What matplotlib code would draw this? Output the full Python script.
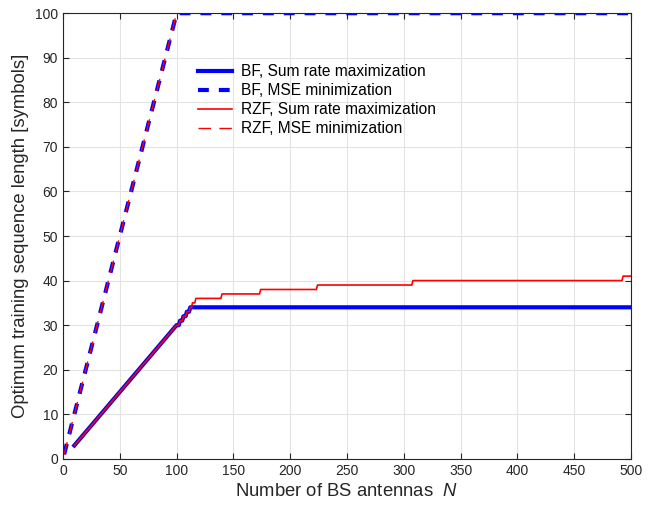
import matplotlib.pyplot as plt

plt.rcParams['font.family'] = ['Liberation Sans', 'DejaVu Sans']
plt.rcParams['mathtext.fontset'] = 'custom'
plt.rcParams['mathtext.it'] = 'Liberation Sans:italic'
plt.rcParams['mathtext.rm'] = 'Liberation Sans'

# MSE minimization (same for BF and RZF)
mse_N = [1, 100, 500]
mse_tau = [1, 100, 100]

# BF, sum rate maximization
bf_N = [10, 100, 102, 103, 105, 106, 108, 109, 111, 112, 500]
bf_tau = [3, 30, 30, 31, 31, 32, 32, 33, 33, 34, 34]

# RZF, sum rate maximization
rzf_N = [10, 100, 102, 103, 105, 106, 108, 109, 111, 112, 113, 114, 116, 117,
         139, 140, 173, 174, 223, 224, 307, 308, 492, 493, 500]
rzf_tau = [3, 30, 30, 31, 31, 32, 32, 33, 33, 34, 34, 35, 35, 36,
           36, 37, 37, 38, 38, 39, 39, 40, 40, 41, 41]

fig = plt.figure(figsize=(6.56, 5.07), dpi=100)
ax = fig.add_axes([0.096, 0.095, 0.866, 0.879])

ax.plot(bf_N, bf_tau, color='#0000ff', lw=3, label='BF, Sum rate maximization')
ax.plot(mse_N, mse_tau, color='#0000ff', lw=3, ls=(0, (2.6, 2.4)), label='BF, MSE minimization')
ax.plot(rzf_N, rzf_tau, color='#ff0000', lw=1.2, label='RZF, Sum rate maximization')
ax.plot(mse_N, mse_tau, color='#ff0000', lw=1.0, ls=(0, (9, 6)), label='RZF, MSE minimization')

ax.set_xlim(0, 500)
ax.set_ylim(0, 100)
ax.set_xticks(range(0, 501, 50))
ax.set_yticks(range(0, 101, 10))
ax.grid(True, color='#e3e3e3', lw=0.8)
ax.set_axisbelow(True)
ax.tick_params(direction='in', top=True, right=True, labelsize=10, colors='#262626', length=4)
for s in ax.spines.values():
    s.set_color('#262626')
    s.set_linewidth(0.8)

ax.set_xlabel('Number of BS antennas  $N$', fontsize=13.3, color='#262626')
ax.set_ylabel('Optimum training sequence length [symbols]', fontsize=13.3, color='#262626')

ax.legend(loc='upper left', bbox_to_anchor=(0.237, 0.885), frameon=False, fontsize=11.2,
          handlelength=2.2, borderaxespad=0, borderpad=0, labelspacing=0.25, handletextpad=0.6)

fig.savefig('out.png', dpi=100)
